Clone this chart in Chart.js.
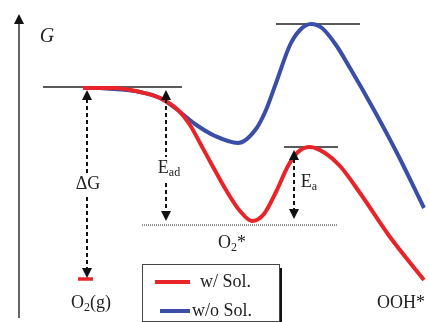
<!DOCTYPE html>
<html>
<head>
<meta charset="utf-8">
<script src="https://cdn.jsdelivr.net/npm/chart.js@4"></script>
<style>
  html,body{margin:0;padding:0;background:#fff}
  #wrap{width:429px;height:322px}
</style>
</head>
<body>
<div id="wrap"><canvas id="c" width="429" height="322"></canvas></div>
<script>
// reaction coordinate (x) vs free energy G, arbitrary units (higher G = up)
const seriesNames = ['w/ Sol.', 'w/o Sol.'];
const solX = [83,115,140,160,178,190,200,212,226,240,252,264,276,288,298,310,325,340,360,390,424];
const solG = [234,234,230,224,212,197,179,157,132,111,101,108,130,156,170,175,169,156,129,85,42];
const noSolX = [100,140,160,175,195,215,238,256,266,276,290,300,311,322,336,350,374,398,424];
const noSolG = [234,230,224,214,198,186,179,193,212,239,277,292,298,294,277,254,212,167,114];
// reference levels: [xStart, xEnd, G]
const levelLines = [[43,182,235],[276,360,298],[284,338,175]];
const dottedLevel = [142,337,97];
const gasLevel = [78,93,43];
// energy differences: [x, G top tip, G bottom tip]
const diffArrows = [[87,232,44],[166,232,101],[294,172,103]];
// labels: [main, subscript, tail, x, G]
const labels = [
  ['ΔG','','',88,138],
  ['E','ad','',169,154],
  ['E','a','',309,140],
  ['O','2','*',232,79],
  ['O','2','(g)',91,19],
  ['OOH*','','',401,19]
];

const RED = 'rgb(232,36,40)', BLUE = 'rgb(58,78,168)';
const SERIF = '"Liberation Serif", "DejaVu Serif", serif';

function pts(xs, gs){ return xs.map((x,i)=>({x:x, y:gs[i]})); }

function drawLabel(ctx, x, y, main, sub, tail, bg){
  const big = '18px ' + SERIF, small = '12px ' + SERIF;
  ctx.font = big; const w1 = ctx.measureText(main).width;
  ctx.font = small; const w2 = sub ? ctx.measureText(sub).width : 0;
  ctx.font = big; const w3 = tail ? ctx.measureText(tail).width : 0;
  const w = w1 + w2 + w3;
  let x0 = x - w/2;
  if(bg){ ctx.fillStyle = '#fff'; ctx.fillRect(x0-2, y-11, w+4, 24); }
  ctx.fillStyle = '#222'; ctx.textBaseline = 'middle'; ctx.textAlign = 'left';
  ctx.font = big; ctx.fillText(main, x0, y); x0 += w1;
  if(sub){ ctx.font = small; ctx.fillText(sub, x0, y+5); x0 += w2; }
  if(tail){ ctx.font = big; ctx.fillText(tail, x0, y); }
}

function arrowHead(ctx, x, y, dir){
  ctx.beginPath();
  ctx.moveTo(x, y);
  ctx.lineTo(x-5, y + dir*10);
  ctx.lineTo(x+5, y + dir*10);
  ctx.closePath(); ctx.fill();
}

const decor = {
  id: 'decor',
  beforeDatasetsDraw(chart){
    const {ctx, scales:{x, y}} = chart;
    ctx.save();
    ctx.strokeStyle = '#222'; ctx.lineWidth = 1.6;
    levelLines.forEach(l=>{
      ctx.beginPath(); ctx.moveTo(x.getPixelForValue(l[0]), y.getPixelForValue(l[2]));
      ctx.lineTo(x.getPixelForValue(l[1]), y.getPixelForValue(l[2])); ctx.stroke();
    });
    ctx.lineWidth = 1; ctx.setLineDash([1,1]);
    ctx.beginPath(); ctx.moveTo(x.getPixelForValue(dottedLevel[0]), y.getPixelForValue(dottedLevel[2]));
    ctx.lineTo(x.getPixelForValue(dottedLevel[1]), y.getPixelForValue(dottedLevel[2])); ctx.stroke();
    ctx.setLineDash([]);
    // G axis
    const ax = 19;
    ctx.lineWidth = 1.5; ctx.strokeStyle = '#333'; ctx.fillStyle = '#111';
    ctx.beginPath(); ctx.moveTo(ax, 318); ctx.lineTo(ax, 24); ctx.stroke();
    arrowHead(ctx, ax, 14, 1);
    ctx.restore();
  },
  afterDatasetsDraw(chart){
    const {ctx, scales:{x, y}} = chart;
    ctx.save();
    // O2(g) level
    ctx.strokeStyle = RED; ctx.lineWidth = 3.5;
    ctx.beginPath(); ctx.moveTo(x.getPixelForValue(gasLevel[0]), y.getPixelForValue(gasLevel[2]));
    ctx.lineTo(x.getPixelForValue(gasLevel[1]), y.getPixelForValue(gasLevel[2])); ctx.stroke();
    // dashed double arrows
    ctx.strokeStyle = '#111'; ctx.fillStyle = '#111'; ctx.lineWidth = 2;
    diffArrows.forEach(a=>{
      const px = x.getPixelForValue(a[0]);
      const t = y.getPixelForValue(a[1]), b = y.getPixelForValue(a[2]);
      ctx.setLineDash([4,3]);
      ctx.beginPath(); ctx.moveTo(px, t+9); ctx.lineTo(px, b-9); ctx.stroke();
      ctx.setLineDash([]);
      arrowHead(ctx, px, t, 1); arrowHead(ctx, px, b, -1);
    });
    // labels
    labels.forEach((l,i)=>{
      drawLabel(ctx, x.getPixelForValue(l[3]), y.getPixelForValue(l[4]), l[0], l[1], l[2], i<2);
    });
    ctx.font = 'italic 20px ' + SERIF; ctx.fillStyle = '#222';
    ctx.textAlign = 'center'; ctx.textBaseline = 'middle';
    ctx.fillText('G', 47, 37);
    // legend box
    const bx = 142, by = 264, bw = 137, bh = 57;
    ctx.fillStyle = '#111'; ctx.fillRect(bx+bw, by+4, 3, bh);
    ctx.fillStyle = '#fff'; ctx.fillRect(bx, by, bw, bh);
    ctx.strokeStyle = '#444'; ctx.lineWidth = 1; ctx.strokeRect(bx+0.5, by+0.5, bw, bh);
    chart.data.datasets.forEach((ds,i)=>{
      const ly = by + 18 + i*29;
      ctx.strokeStyle = ds.borderColor; ctx.lineWidth = 4;
      ctx.beginPath(); ctx.moveTo(bx + (i ? 18 : 13), ly); ctx.lineTo(bx + 48, ly); ctx.stroke();
      ctx.fillStyle = '#222'; ctx.font = '18px ' + SERIF; ctx.textAlign = 'left'; ctx.textBaseline = 'middle';
      ctx.fillText(ds.label, bx + (i ? 50 : 58), ly);
    });
    ctx.restore();
  }
};

new Chart(document.getElementById('c'), {
  type: 'scatter',
  data: {
    datasets: [
      { label: seriesNames[0], data: pts(solX, solG), showLine: true, borderColor: RED, borderWidth: 4,
        pointRadius: 0, cubicInterpolationMode: 'monotone', order: 1 },
      { label: seriesNames[1], data: pts(noSolX, noSolG), showLine: true, borderColor: BLUE, borderWidth: 4,
        pointRadius: 0, cubicInterpolationMode: 'monotone', order: 2 }
    ]
  },
  options: {
    responsive: false, animation: false,
    layout: { padding: 0 },
    plugins: { legend: { display: false }, tooltip: { enabled: false } },
    scales: {
      x: { type: 'linear', min: 0, max: 429, display: false },
      y: { type: 'linear', min: 0, max: 322, display: false }
    }
  },
  plugins: [decor]
});
</script>
</body>
</html>
